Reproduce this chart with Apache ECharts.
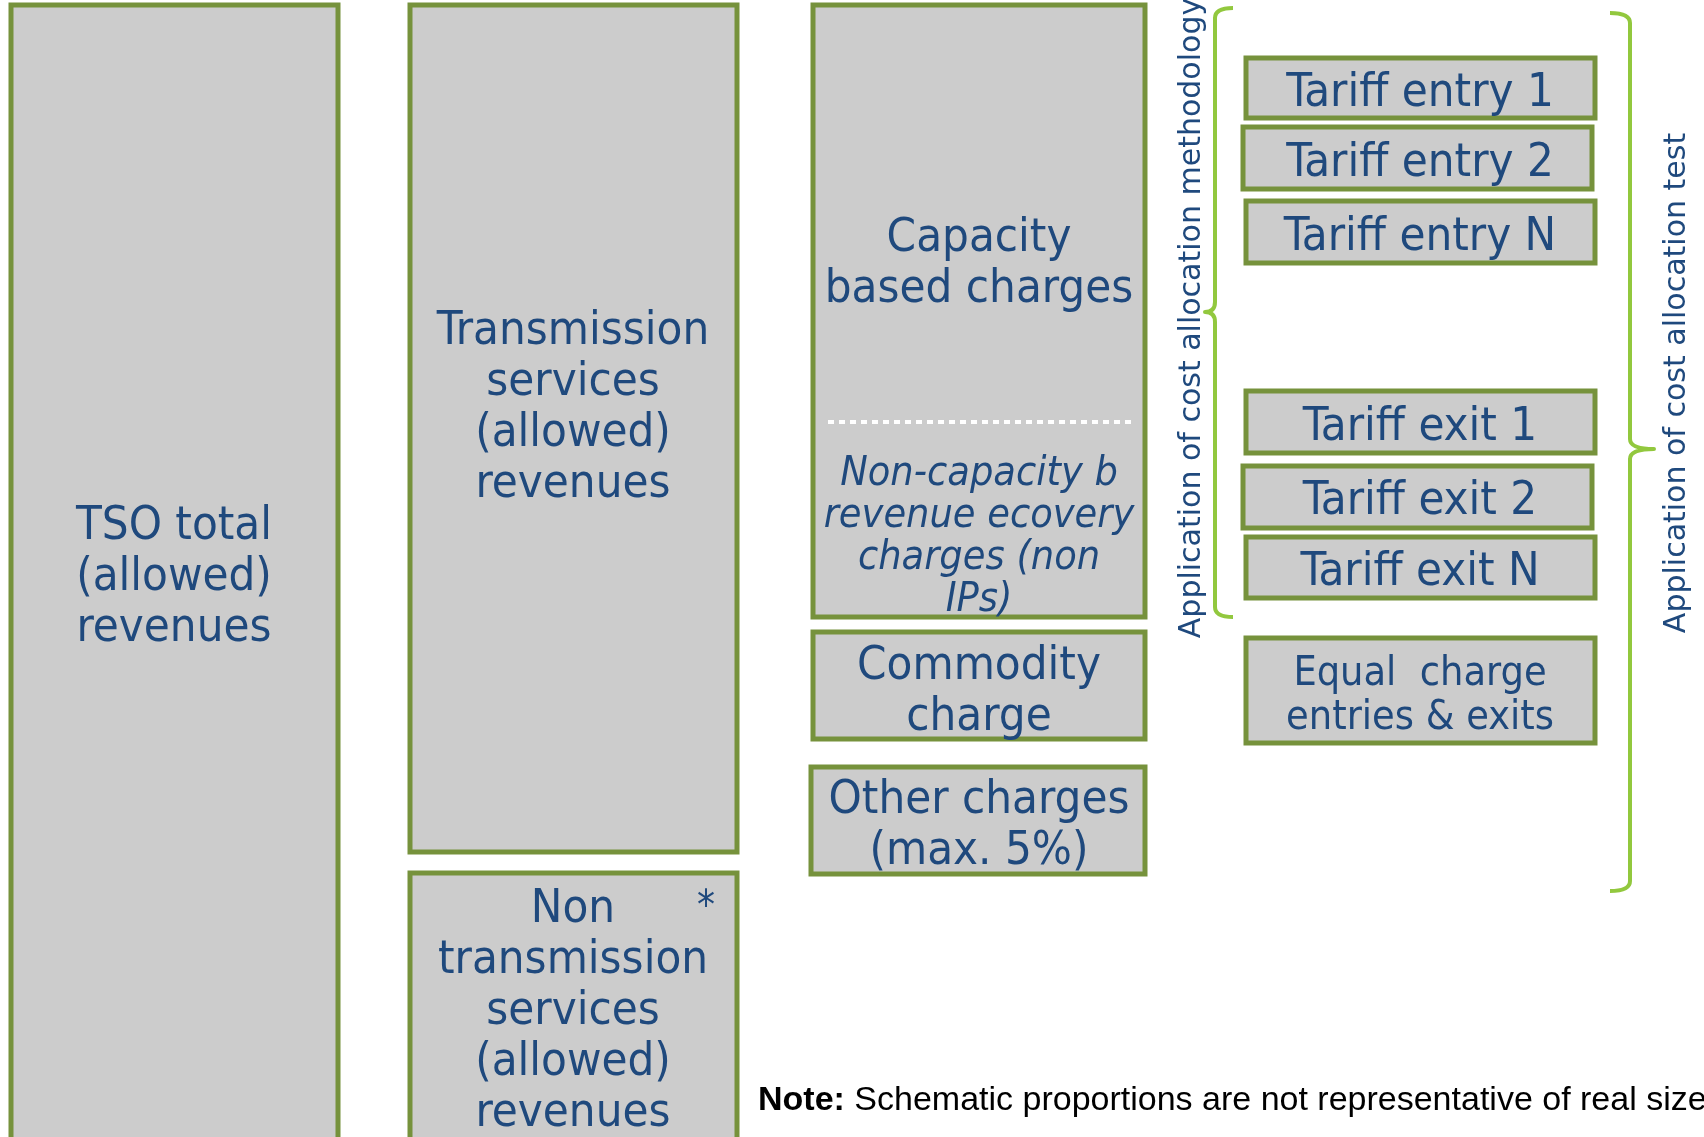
<!DOCTYPE html>
<html>
<head>
<meta charset="utf-8">
<script src="https://cdn.jsdelivr.net/npm/echarts@6.0.0/dist/echarts.min.js"></script>
<style>
  html, body { margin: 0; padding: 0; background: #fff; }
  #chart { width: 1704px; height: 1137px; }
</style>
</head>
<body>
<div id="chart"></div>
<script>
// schematic boxes, in axis units (x 0..1704, y 0..1137 from the top)
const boxLeft   = [11, 410, 410, 813, 813, 811, 1246, 1243, 1246, 1246, 1243, 1246, 1246]
const boxRight  = [338, 737, 737, 1145, 1145, 1145, 1595, 1592, 1595, 1595, 1592, 1595, 1595]
const boxTop    = [5, 5, 873, 5, 632, 767, 58, 127, 201, 391, 466, 537, 638]
const boxBottom = [1150, 852, 1150, 617, 739, 874, 118, 189, 263, 453, 528, 598, 743]

// text inside the boxes
const labelText = [
  'TSO total\n(allowed)\nrevenues',
  'Transmission\nservices\n(allowed)\nrevenues',
  'Non\ntransmission\nservices\n(allowed)\nrevenues',
  'Capacity\nbased charges',
  'Non-capacity b\nrevenue ecovery\ncharges (non\nIPs)',
  'Commodity\ncharge',
  'Other charges\n(max. 5%)',
  'Tariff entry 1',
  'Tariff entry 2',
  'Tariff entry N',
  'Tariff exit 1',
  'Tariff exit 2',
  'Tariff exit N',
  'Equal  charge\nentries & exits',
  '*'
]
const labelX = [174, 573, 573, 979, 979, 979, 979, 1420, 1420, 1420, 1420, 1420, 1420, 1420, 706]
const labelY = [578, 408, 1012, 264, 537, 692, 826, 94, 164, 238, 428, 502, 573, 696, 909]
const labelSize = [47, 47, 47, 47, 41, 47, 47, 47, 47, 47, 47, 47, 47, 41, 40]
const labelGap = [51, 51, 51, 51, 42, 51, 51, 51, 51, 51, 51, 51, 51, 44, 40]
const labelItalic = [0, 0, 0, 0, 1, 0, 0, 0, 0, 0, 0, 0, 0, 0, 0]

// braces: x of the spine, top, tip, bottom, side the hooks point to
const braceX = [1215, 1630]
const braceTop = [8, 13]
const braceMid = [312, 449]
const braceBottom = [617, 891]
const braceDir = [1, -1]

const sideText = ['Application of cost allocation methodology', 'Application of cost allocation test']
const sideX = [1192, 1677]
const sideY = [318, 383]

const BLUE = '#1f497d'
const GREEN = '#76923c'
const LIGHT_GREEN = '#92c83e'
const FONT = '"DejaVu Sans Condensed", "DejaVu Sans", Verdana, sans-serif'
const NOTE_FONT = '"Liberation Sans", Arial, sans-serif'

const boxData = boxLeft.map((x, i) => [x, boxTop[i], boxRight[i], boxBottom[i]])
const labelData = labelText.map((t, i) => [labelX[i], labelY[i], i])
const braceData = braceX.map((x, i) => [x, braceTop[i], braceMid[i], braceBottom[i], braceDir[i]])
const sideData = sideText.map((t, i) => [sideX[i], sideY[i], i])

const chart = echarts.init(document.getElementById('chart'))

const option = {
  animation: false,
  backgroundColor: '#fff',
  grid: { left: 0, right: 0, top: 0, bottom: 0 },
  xAxis: { type: 'value', min: 0, max: 1704, show: false },
  yAxis: { type: 'value', min: 0, max: 1137, inverse: true, show: false },
  series: [
    {
      name: 'boxes',
      type: 'custom',
      data: boxData,
      renderItem (params, api) {
        const p0 = api.coord([api.value(0), api.value(1)])
        const p1 = api.coord([api.value(2), api.value(3)])
        return {
          type: 'rect',
          shape: { x: p0[0], y: p0[1], width: p1[0] - p0[0], height: p1[1] - p0[1] },
          style: { fill: '#cccccc', stroke: GREEN, lineWidth: 5 }
        }
      }
    },
    {
      // dotted split inside the capacity box
      name: 'split',
      type: 'custom',
      data: [[828, 1132, 422]],
      renderItem (params, api) {
        const a = api.coord([api.value(0), api.value(2)])
        const b = api.coord([api.value(1), api.value(2)])
        return {
          type: 'line',
          shape: { x1: a[0], y1: a[1], x2: b[0], y2: b[1] },
          style: { stroke: '#ffffff', lineWidth: 4, lineDash: [6, 5] }
        }
      }
    },
    {
      name: 'labels',
      type: 'custom',
      data: labelData,
      renderItem (params, api) {
        const i = api.value(2)
        const p = api.coord([api.value(0), api.value(1)])
        return {
          type: 'text',
          x: p[0],
          y: p[1],
          style: {
            text: labelText[i],
            fill: BLUE,
            fontFamily: FONT,
            fontSize: labelSize[i],
            fontStyle: labelItalic[i] ? 'italic' : 'normal',
            lineHeight: labelGap[i],
            align: 'center',
            verticalAlign: 'middle'
          }
        }
      }
    },
    {
      name: 'braces',
      type: 'custom',
      data: braceData,
      renderItem (params, api) {
        const d = api.value(4)
        const top = api.coord([api.value(0), api.value(1)])
        const mid = api.coord([api.value(0), api.value(2)])
        const bot = api.coord([api.value(0), api.value(3)])
        const x = top[0]
        const h = d > 0 ? 18 : 20
        const t = d > 0 ? 10 : 24
        const r = 10
        const path = 'M' + (x + d * h) + ',' + top[1] +
          ' Q' + x + ',' + top[1] + ' ' + x + ',' + (top[1] + r) +
          ' L' + x + ',' + (mid[1] - r) +
          ' Q' + x + ',' + mid[1] + ' ' + (x - d * t) + ',' + mid[1] +
          ' Q' + x + ',' + mid[1] + ' ' + x + ',' + (mid[1] + r) +
          ' L' + x + ',' + (bot[1] - r) +
          ' Q' + x + ',' + bot[1] + ' ' + (x + d * h) + ',' + bot[1]
        return {
          type: 'path',
          shape: { pathData: path },
          style: { fill: null, stroke: LIGHT_GREEN, lineWidth: 4, lineJoin: 'round' }
        }
      }
    },
    {
      name: 'side text',
      type: 'custom',
      data: sideData,
      renderItem (params, api) {
        const i = api.value(2)
        const p = api.coord([api.value(0), api.value(1)])
        return {
          type: 'text',
          x: p[0],
          y: p[1],
          rotation: Math.PI / 2,
          style: {
            text: sideText[i],
            fill: BLUE,
            fontFamily: '"DejaVu Sans", Verdana, sans-serif',
            fontSize: 30,
            align: 'center',
            verticalAlign: 'middle'
          }
        }
      }
    },
    {
      name: 'note',
      type: 'custom',
      data: [[758, 1101]],
      renderItem (params, api) {
        const p = api.coord([api.value(0), api.value(1)])
        return {
          type: 'text',
          x: p[0],
          y: p[1],
          style: {
            text: '{b|Note:} Schematic proportions are not representative of real size',
            fill: '#000',
            fontFamily: NOTE_FONT,
            fontSize: 34,
            align: 'left',
            verticalAlign: 'middle',
            rich: {
              b: { fontWeight: 'bold', fontFamily: NOTE_FONT, fontSize: 34, fill: '#000' }
            }
          }
        }
      }
    }
  ]
}

chart.setOption(option)
</script>
</body>
</html>
